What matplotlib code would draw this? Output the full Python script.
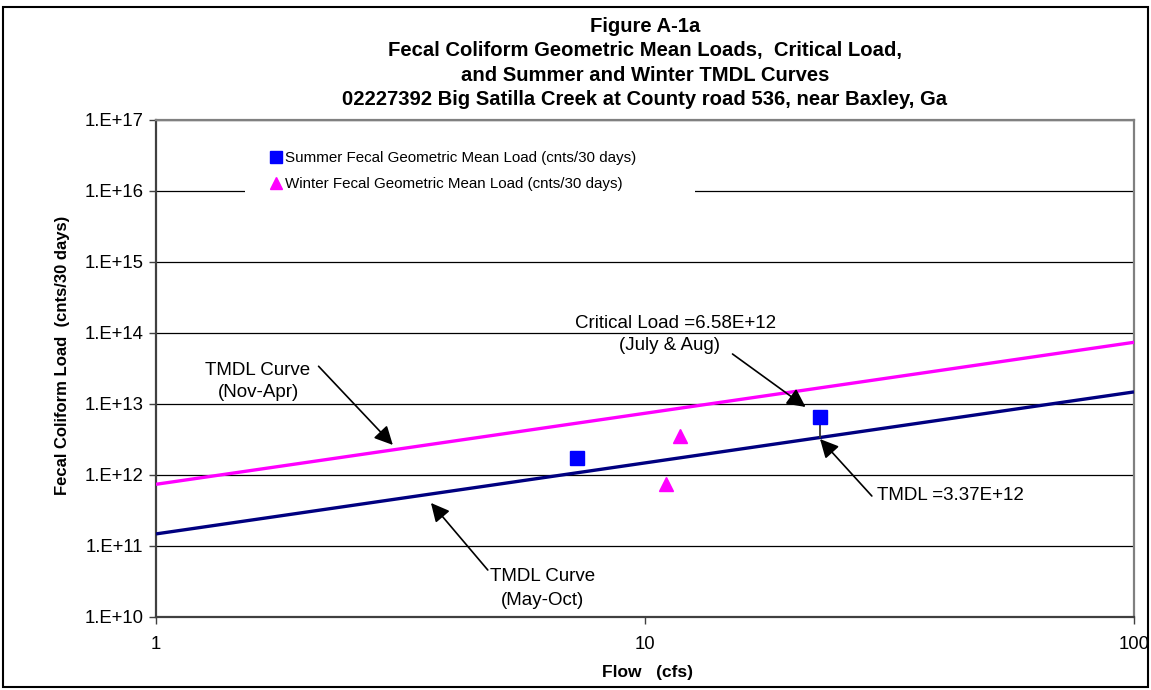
import matplotlib
matplotlib.use("Agg")
import matplotlib.pyplot as plt
from matplotlib.patches import Rectangle
from matplotlib.ticker import FixedLocator, FixedFormatter, NullLocator

# ---- data ----
curve_flow = [1, 100]
summer_tmdl = [1.48e11, 1.48e13]
winter_tmdl = [7.40e11, 7.40e13]

summer_flow = [7.25, 22.8]
summer_load = [1.72e12, 6.58e12]
winter_flow = [11.79, 11.02]
winter_load = [3.57e12, 7.52e11]

tmdl_flow = [22.8]
tmdl_value = [3.37e12]
critical_value = [6.58e12]

ytick_vals = [1e10, 1e11, 1e12, 1e13, 1e14, 1e15, 1e16, 1e17]
ytick_labels = ["1.E+10", "1.E+11", "1.E+12", "1.E+13", "1.E+14", "1.E+15", "1.E+16", "1.E+17"]
xtick_vals = [1, 10, 100]
xtick_labels = ["1", "10", "100"]

title_lines = ["Figure A-1a",
               "Fecal Coliform Geometric Mean Loads,  Critical Load,",
               "and Summer and Winter TMDL Curves",
               "02227392 Big Satilla Creek at County road 536, near Baxley, Ga"]

plt.rcParams['font.family'] = ['Liberation Sans', 'DejaVu Sans']

fig = plt.figure(figsize=(11.51, 6.90), dpi=100)
ax = fig.add_axes([156/1151, 1-617/690, (1134-156)/1151, (617-120)/690])

ax.set_xscale('log')
ax.set_yscale('log')
ax.set_xlim(1, 100)
ax.set_ylim(1e10, 1e17)

for v in ytick_vals:
    ax.axhline(v, color='black', lw=0.9, zorder=1)

ax.plot(curve_flow, winter_tmdl, color='#FF00FF', lw=2.4, zorder=3, solid_capstyle='butt')
ax.plot(curve_flow, summer_tmdl, color='#000080', lw=2.4, zorder=3, solid_capstyle='butt')

ax.vlines(tmdl_flow, tmdl_value, critical_value, color='#333333', lw=1.3, zorder=4)

ax.plot(summer_flow, summer_load, ls='none', marker='s', ms=10.5, color='#0000FF',
        mec='#0000FF', zorder=5, label='Summer Fecal Geometric Mean Load (cnts/30 days)')
ax.plot(winter_flow, winter_load, ls='none', marker='^', ms=10.5, color='#FF00FF',
        mec='#FF00FF', zorder=5, label='Winter Fecal Geometric Mean Load (cnts/30 days)')

# white legend background covering the gridline
ax.add_patch(Rectangle((0.091, 0.845), 0.46, 0.109, transform=ax.transAxes,
                       facecolor='white', edgecolor='none', zorder=2))

leg = ax.legend(loc='upper left', bbox_to_anchor=(0.1176, 0.938), frameon=False,
                fontsize=10.9, handlelength=0.7, handletextpad=0.25, markerscale=0.85,
                borderpad=0, labelspacing=0.8, borderaxespad=0)
leg.set_zorder(6)

# annotations
ann_kw = dict(arrowstyle='-|>', color='black', lw=1.2, mutation_scale=28,
              shrinkA=0, shrinkB=0)
fs = 13.5
ax.text(11.57, 1.38e14, "Critical Load =6.58E+12", ha='center', va='center', fontsize=fs, zorder=7)
ax.text(11.2, 6.56e13, "(July & Aug)", ha='center', va='center', fontsize=fs, zorder=7)
ax.annotate("", xy=(21.3, 9.08e12), xytext=(15.1, 5.06e13), arrowprops=ann_kw, zorder=7)

ax.text(42.2, 5.2e11, "TMDL =3.37E+12", ha='center', va='center', fontsize=fs, zorder=7)
ax.annotate("", xy=(22.8, 3.21e12), xytext=(29.1, 5.06e11), arrowprops=ann_kw, zorder=7)

ax.text(1.617, 3.01e13, "TMDL Curve", ha='center', va='center', fontsize=fs, zorder=7)
ax.text(1.617, 1.43e13, "(Nov-Apr)", ha='center', va='center', fontsize=fs, zorder=7)
ax.annotate("", xy=(3.05, 2.65e12), xytext=(2.15, 3.4e13), arrowprops=ann_kw, zorder=7)

ax.text(6.16, 3.66e10, "TMDL Curve", ha='center', va='center', fontsize=fs, zorder=7)
ax.text(6.16, 1.73e10, "(May-Oct)", ha='center', va='center', fontsize=fs, zorder=7)
ax.annotate("", xy=(3.65, 4.04e11), xytext=(4.77, 4.59e10), arrowprops=ann_kw, zorder=7)

# ticks
ax.yaxis.set_major_locator(FixedLocator(ytick_vals))
ax.yaxis.set_major_formatter(FixedFormatter(ytick_labels))
ax.yaxis.set_minor_locator(NullLocator())
ax.xaxis.set_major_locator(FixedLocator(xtick_vals))
ax.xaxis.set_major_formatter(FixedFormatter(xtick_labels))
ax.xaxis.set_minor_locator(NullLocator())
ax.tick_params(axis='y', direction='out', length=5, width=1, pad=4, labelsize=13.3, color='#404040')
ax.tick_params(axis='x', direction='out', length=5, width=1, pad=9, labelsize=13.3, color='#404040')

for side in ['left', 'bottom']:
    ax.spines[side].set_color('#404040')
    ax.spines[side].set_linewidth(1.6)
for side in ['top', 'right']:
    ax.spines[side].set_color('#808080')
    ax.spines[side].set_linewidth(1.6)

fig.text(645/1151, 1-63/690, "\n".join(title_lines), ha='center', va='center',
         fontsize=14.6, fontweight='bold', linespacing=1.36)
fig.text(63/1151, 1-355/690, "Fecal Coliform Load  (cnts/30 days)", rotation=90,
         ha='center', va='center', fontsize=12, fontweight='bold')
fig.text(648/1151, 1-672/690, "Flow   (cfs)", ha='center', va='center',
         fontsize=12.5, fontweight='bold')

fig.patches.append(Rectangle((3/1151, 3/690), 1-6/1151, 1-10/690, transform=fig.transFigure,
                             fill=False, edgecolor='black', lw=1.5))

fig.savefig("out.png", dpi=100)
